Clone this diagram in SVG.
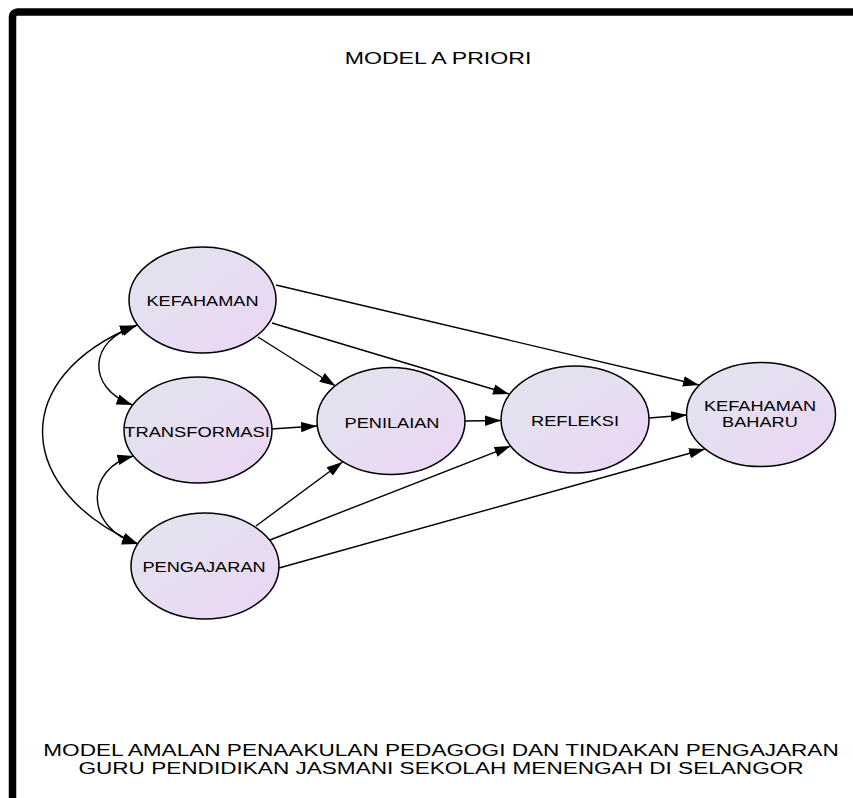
<svg xmlns="http://www.w3.org/2000/svg" width="853" height="798" viewBox="0 0 853 798">
<style>
.node ellipse{fill:url(#g);stroke:#000;stroke-width:1.5}
.lbl{font-family:"Liberation Sans",Arial,sans-serif;font-size:14px;fill:#000;text-anchor:middle}
.cap{font-family:"Liberation Sans",Arial,sans-serif;font-size:16.5px;fill:#000;text-anchor:middle}
.edges path{fill:none;stroke:#000;stroke-width:1.4}
</style>
<defs>
<linearGradient id="g" x1="0" y1="0" x2="1" y2="1">
<stop offset="0" stop-color="#e0e5ee"/>
<stop offset="1" stop-color="#edd5f4"/>
</linearGradient>
<marker id="a" markerUnits="userSpaceOnUse" markerWidth="17" markerHeight="13" viewBox="0 0 17 13" refX="16" refY="6.5" orient="auto-start-reverse">
<path d="M0,1.3 L16,6.5 L0,11.7 z" fill="#000"/>
</marker>
</defs>
<rect width="853" height="798" fill="#fff"/>
<rect x="12.5" y="12" width="900" height="900" rx="5" fill="none" stroke="#000" stroke-width="7.5"/>
<text class="cap" transform="translate(438,64) scale(1.36,1)" style="font-size:17px">MODEL A PRIORI</text>
<g class="edges">
<path d="M276,285 L699,385" marker-end="url(#a)"/>
<path d="M272,323 L509,394" marker-end="url(#a)"/>
<path d="M258,337 L335.5,386" marker-end="url(#a)"/>
<path d="M271,429 L317,426" marker-end="url(#a)"/>
<path d="M465,421 L501,420.5" marker-end="url(#a)"/>
<path d="M649,418 L687,415" marker-end="url(#a)"/>
<path d="M256,526 L342.5,462" marker-end="url(#a)"/>
<path d="M270,540 L510.5,446" marker-end="url(#a)"/>
<path d="M279,568 L705,449" marker-end="url(#a)"/>
<path d="M136,326 C88,340 86,388 132.5,405" marker-start="url(#a)" marker-end="url(#a)"/>
<path d="M133.5,456 C85,468 84,528 138,544" marker-start="url(#a)" marker-end="url(#a)"/>
<path d="M137,325 C5,378 17,492 138,544" marker-start="url(#a)" marker-end="url(#a)"/>
</g>
<g id="kefahaman" class="node"><ellipse cx="202.5" cy="300" rx="73.5" ry="53"/><text class="lbl" transform="translate(202.5,306) scale(1.3,1)">KEFAHAMAN</text></g>
<g id="transformasi" class="node"><ellipse cx="198" cy="430" rx="74" ry="53"/><text class="lbl" transform="translate(197,436.5) scale(1.31,1)">TRANSFORMASI</text></g>
<g id="pengajaran" class="node"><ellipse cx="205" cy="566" rx="74" ry="53"/><text class="lbl" transform="translate(204,572) scale(1.3,1)">PENGAJARAN</text></g>
<g id="penilaian" class="node"><ellipse cx="391" cy="421" rx="74" ry="53.5"/><text class="lbl" transform="translate(392,427.5) scale(1.3,1)">PENILAIAN</text></g>
<g id="refleksi" class="node"><ellipse cx="575" cy="419.5" rx="74" ry="53.5"/><text class="lbl" transform="translate(575,425.5) scale(1.3,1)">REFLEKSI</text></g>
<g id="kefahaman-baharu" class="node"><ellipse cx="761" cy="414.5" rx="74.5" ry="52"/><text class="lbl" transform="translate(760,411) scale(1.3,1)">KEFAHAMAN</text><text class="lbl" transform="translate(760,427) scale(1.3,1)">BAHARU</text></g>
<text class="cap" transform="translate(441,756) scale(1.37,1)">MODEL AMALAN PENAAKULAN PEDAGOGI DAN TINDAKAN PENGAJARAN</text>
<text class="cap" transform="translate(441,773.5) scale(1.37,1)">GURU PENDIDIKAN JASMANI SEKOLAH MENENGAH DI SELANGOR</text>
</svg>
